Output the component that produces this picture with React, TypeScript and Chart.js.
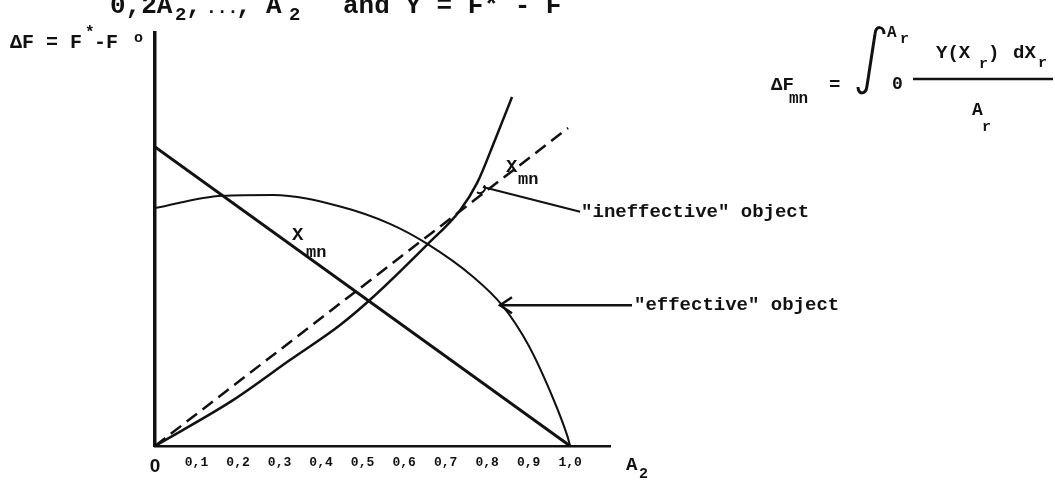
import React, { useEffect, useRef } from "react";
import { Chart, registerables } from "chart.js";

Chart.register(...registerables);

// ---- data ----
const xTickValues = [0, 0.1, 0.2, 0.3, 0.4, 0.5, 0.6, 0.7, 0.8, 0.9, 1.0];
const xTickLabels = ["0", "0,1", "0,2", "0,3", "0,4", "0,5", "0,6", "0,7", "0,8", "0,9", "1,0"];

// straight falling line X_mn
const fallingX = [0, 1.0];
const fallingY = [0.724, 0];

// "effective" object (arc)
const effectiveX = [0, 0.161, 0.284, 0.446, 0.566, 0.655, 0.766, 0.836, 0.899, 0.959, 0.993, 1.0];
const effectiveY = [0.576, 0.606, 0.608, 0.58, 0.538, 0.49, 0.41, 0.341, 0.245, 0.115, 0.025, 0];

// "ineffective" object (rising curve)
const ineffectiveX = [0, 0.188, 0.325, 0.446, 0.518, 0.655, 0.735, 0.776, 0.819, 0.86];
const ineffectiveY = [0, 0.111, 0.208, 0.293, 0.354, 0.487, 0.571, 0.637, 0.741, 0.845];

// dashed reference line X_mn
const referenceX = [0, 0.995];
const referenceY = [0, 0.77];

// pointer anchors (data coordinates)
const ineffPointerX = [0.79, 1.024];
const ineffPointerY = [0.627, 0.567];
const effArrowTip = { x: 0.831, y: 0.341 };

const toPts = (xs: number[], ys: number[]) => xs.map((x, i) => ({ x, y: ys[i] }));

const MONO = '"Liberation Mono", "Courier New", monospace';
const INK = "#111";

const annotations = {
  id: "annotations",
  afterDatasetsDraw(chart: any) {
    const ctx = chart.ctx as CanvasRenderingContext2D;
    const xs = chart.scales.x;
    const ys = chart.scales.y;
    const px = (v: number) => xs.getPixelForValue(v);
    const py = (v: number) => ys.getPixelForValue(v);
    ctx.save();
    ctx.fillStyle = INK;
    ctx.strokeStyle = INK;
    ctx.textBaseline = "alphabetic";
    const t = (s: string, x: number, y: number, size: number, family = MONO, weight = "bold") => {
      ctx.font = `${weight} ${size}px ${family}`;
      ctx.fillText(s, x, y);
    };

    // "ineffective" pointer line with little hook
    ctx.lineWidth = 2;
    ctx.beginPath();
    ctx.moveTo(px(ineffPointerX[0]), py(ineffPointerY[0]));
    ctx.lineTo(px(ineffPointerX[1]), py(ineffPointerY[1]));
    ctx.stroke();
    ctx.beginPath();
    ctx.arc(px(ineffPointerX[0]) - 3, py(ineffPointerY[0]) + 1, 5, -0.6, 2.2);
    ctx.stroke();
    t('"ineffective" object', px(ineffPointerX[1]) + 1, py(ineffPointerY[1]) + 5, 19);

    // "effective" arrow
    const tipX = px(effArrowTip.x);
    const tipY = py(effArrowTip.y);
    ctx.lineWidth = 2.5;
    ctx.beginPath();
    ctx.moveTo(tipX, tipY);
    ctx.lineTo(tipX + 132, tipY);
    ctx.stroke();
    ctx.beginPath();
    ctx.moveTo(tipX + 12, tipY - 8);
    ctx.lineTo(tipX, tipY);
    ctx.lineTo(tipX + 12, tipY + 8);
    ctx.stroke();
    t('"effective" object', tipX + 134, tipY + 5, 19);

    // X_mn labels
    t("X", 292, 240, 19);
    t("mn", 306, 257, 17);
    t("X", 506, 172, 19);
    t("mn", 518, 184, 17);

    // A2 axis label
    t("A", 626, 470, 19);
    t("2", 639, 478, 15);

    // left axis label
    t("\u0394F = F", 10, 48, 20);
    t("*", 85, 37, 16);
    t("-F", 94, 48, 20);
    t("o", 134, 42, 15);

    // top clipped line of text
    t("0,2A", 110, 13, 26);
    t("2", 175, 20, 19);
    t(",", 186, 13, 26);
    t("...", 206, 13, 18);
    t(",", 236, 13, 26);
    t("A", 266, 13, 26);
    t("2", 289, 20, 19);
    t("and Y = F* - F", 343, 13, 26);

    // right formula
    t("\u0394F", 771, 90, 19);
    t("mn", 789, 103, 16);
    t("=", 829, 90, 19);
    ctx.lineWidth = 3;
    ctx.beginPath();
    ctx.moveTo(884, 34);
    ctx.bezierCurveTo(884, 26, 876, 25, 875, 34);
    ctx.lineTo(867, 86);
    ctx.bezierCurveTo(866, 95, 858, 95, 858, 87);
    ctx.stroke();
    t("A", 887, 37, 16);
    t("r", 900, 43, 15);
    t("0", 892, 89, 18);
    t("Y(X", 936, 58, 19);
    t("r", 979, 68, 15);
    t(")", 988, 58, 19);
    t("dX", 1013, 58, 19);
    t("r", 1038, 67, 15);
    ctx.lineWidth = 2.5;
    ctx.beginPath();
    ctx.moveTo(913, 79);
    ctx.lineTo(1053, 79);
    ctx.stroke();
    t("A", 972, 115, 18);
    t("r", 982, 131, 15);

    ctx.restore();
  },
};

export default function App() {
  const ref = useRef<HTMLCanvasElement | null>(null);
  useEffect(() => {
    if (!ref.current) return;
    const chart = new Chart(ref.current, {
      type: "line",
      data: {
        datasets: [
          {
            label: "falling",
            data: toPts(fallingX, fallingY),
            borderColor: INK,
            borderWidth: 3,
            pointRadius: 0,
          },
          {
            label: "effective",
            data: toPts(effectiveX, effectiveY),
            borderColor: INK,
            borderWidth: 2,
            pointRadius: 0,
            cubicInterpolationMode: "monotone",
          },
          {
            label: "ineffective",
            data: toPts(ineffectiveX, ineffectiveY),
            borderColor: INK,
            borderWidth: 2.5,
            pointRadius: 0,
            cubicInterpolationMode: "monotone",
          },
          {
            label: "reference",
            data: toPts(referenceX, referenceY),
            borderColor: INK,
            borderWidth: 2.5,
            borderDash: [13, 7],
            pointRadius: 0,
          },
        ],
      },
      options: {
        responsive: false,
        animation: false,
        events: [],
        layout: { padding: { left: 155, right: 445, top: 33, bottom: 0 } },
        plugins: { legend: { display: false }, tooltip: { enabled: false } },
        scales: {
          x: {
            type: "linear",
            min: 0,
            max: 1.096,
            grid: { display: false, drawTicks: false },
            border: { display: true, color: INK, width: 2.5 },
            afterBuildTicks: (s: any) => {
              s.ticks = xTickValues.map((v) => ({ value: v }));
            },
            afterFit: (s: any) => {
              s.height = 40;
            },
            ticks: {
              padding: 9,
              color: INK,
              autoSkip: false,
              maxRotation: 0,
              callback: (_v: any, i: number) => xTickLabels[i],
              font: (c: any) =>
                c.index === 0
                  ? { family: '"Liberation Sans", Arial, sans-serif', size: 19, weight: "bold" }
                  : { family: MONO, size: 13, weight: "bold" },
            },
          },
          y: {
            type: "linear",
            min: 0,
            max: 1,
            grid: { display: false, drawTicks: false },
            border: { display: true, color: INK, width: 3.5 },
            ticks: { display: false },
            afterFit: (s: any) => {
              s.width = 0;
            },
          },
        },
      },
      plugins: [annotations],
    } as any);
    return () => chart.destroy();
  }, []);
  return (
    <div style={{ position: "fixed", left: 0, top: 0, width: 1055, height: 486, background: "#fff" }}>
      <canvas ref={ref} width={1055} height={486} style={{ display: "block" }} />
    </div>
  );
}
